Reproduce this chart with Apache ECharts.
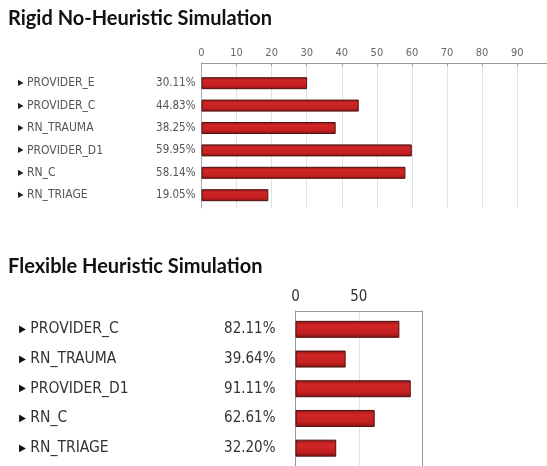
<!DOCTYPE html>
<html><head><meta charset="utf-8">
<script src="https://cdn.jsdelivr.net/npm/echarts@6/dist/echarts.min.js"></script>
<style>html,body{margin:0;padding:0;background:#fff}#c{width:547px;height:466px}</style>
</head><body><div id="c"></div>
<script>
var rigidTitle = 'Rigid No-Heuristic Simulation';
var rigidCategories = ['PROVIDER_E','PROVIDER_C','RN_TRAUMA','PROVIDER_D1','RN_C','RN_TRIAGE'];
var rigidValues = [30.11, 44.83, 38.25, 59.95, 58.14, 19.05];
var flexTitle = 'Flexible Heuristic Simulation';
var flexCategories = ['PROVIDER_C','RN_TRAUMA','PROVIDER_D1','RN_C','RN_TRIAGE'];
var flexValues = [82.11, 39.64, 91.11, 62.61, 32.20];

var FONT = '"DejaVu Sans Condensed","DejaVu Sans",sans-serif';
function pct(v){ return v.toFixed(2) + '%'; }
var barFill = {type:'linear',x:0,y:0,x2:0,y2:1,colorStops:[
  {offset:0,color:'#8e1515'},{offset:0.25,color:'#d02626'},{offset:0.7,color:'#c62020'},{offset:1,color:'#861414'}]};

var chart = echarts.init(document.getElementById('c'));
var G = {outerBoundsMode:'none',containLabel:false};
chart.setOption({
  animation:false,
  backgroundColor:'#fff',
  title:[
    {text:rigidTitle,left:3,top:4,textStyle:{fontFamily:'Lato',fontWeight:'bold',fontSize:20,color:'#111'}},
    {text:flexTitle,left:3,top:252,textStyle:{fontFamily:'Lato',fontWeight:'bold',fontSize:20,color:'#111'}}
  ],
  grid:[
    Object.assign({left:201.5,right:0,top:63,height:145},G),
    Object.assign({left:201.5,right:0,top:72,height:134.4},G),
    Object.assign({left:295.5,right:125,top:311,bottom:0},G),
    Object.assign({left:295.5,right:125,top:314.5,height:148.5},G)
  ],
  xAxis:[
    {gridIndex:0,type:'value',position:'top',min:0,max:98.5,interval:10,
     axisLine:{show:true,lineStyle:{color:'#999',width:1}},
     axisTick:{show:true,inside:true,length:3,lineStyle:{color:'#999'}},
     axisLabel:{showMaxLabel:false,fontFamily:FONT,fontSize:11,color:'#666',margin:4},
     splitLine:{show:true,lineStyle:{color:'#e2e2e2',width:1}}},
    {gridIndex:1,type:'value',min:0,max:98.5,show:false},
    {gridIndex:2,type:'value',position:'top',min:0,max:100,interval:50,
     axisLine:{show:true,lineStyle:{color:'#999',width:1}},
     axisTick:{show:false},
     axisLabel:{showMaxLabel:false,fontFamily:FONT,fontSize:15,color:'#333',margin:6},
     splitLine:{show:true,lineStyle:{color:'#e2e2e2',width:1}}},
    {gridIndex:3,type:'value',min:0,max:100,show:false}
  ],
  yAxis:[
    {gridIndex:0,type:'category',data:[],axisLine:{show:true,lineStyle:{color:'#aaa'}},axisTick:{show:false},axisLabel:{show:false}},
    {gridIndex:1,type:'category',position:'left',inverse:true,data:rigidCategories,
     axisLine:{show:false},axisTick:{show:false},
     axisLabel:{align:'left',margin:183.5,fontFamily:FONT,fontSize:12,color:'#555',
       formatter:function(v){return '{t|▶} ' + v;},
       rich:{t:{fontSize:8,color:'#222',fontFamily:FONT}}}},
    {gridIndex:1,type:'category',position:'left',inverse:true,data:rigidValues.map(pct),
     axisLine:{show:false},axisTick:{show:false},
     axisLabel:{margin:6,fontFamily:FONT,fontSize:11.5,color:'#555'}},
    {gridIndex:2,type:'category',data:[],axisLine:{show:true,lineStyle:{color:'#999'}},axisTick:{show:false},axisLabel:{show:false}},
    {gridIndex:2,type:'category',position:'right',data:[],axisLine:{show:true,lineStyle:{color:'#999'}},axisTick:{show:false},axisLabel:{show:false}},
    {gridIndex:3,type:'category',position:'left',inverse:true,data:flexCategories,
     axisLine:{show:false},axisTick:{show:false},
     axisLabel:{align:'left',margin:276.5,fontFamily:FONT,fontSize:15.5,color:'#333',
       formatter:function(v){return '{t|▶} ' + v;},
       rich:{t:{fontSize:10,color:'#111',fontFamily:FONT}}}},
    {gridIndex:3,type:'category',position:'left',inverse:true,data:flexValues.map(pct),
     axisLine:{show:false},axisTick:{show:false},
     axisLabel:{margin:20,fontFamily:FONT,fontSize:15,color:'#333',padding:[6,0,0,0]}}
  ],
  series:[
    {type:'bar',xAxisIndex:1,yAxisIndex:1,data:rigidValues,barWidth:12,
     itemStyle:{color:barFill,borderColor:'#4a1212',borderWidth:1}},
    {type:'bar',xAxisIndex:3,yAxisIndex:5,data:flexValues,barWidth:17,
     itemStyle:{color:barFill,borderColor:'#4a1212',borderWidth:1}}
  ]
});
</script></body></html>
